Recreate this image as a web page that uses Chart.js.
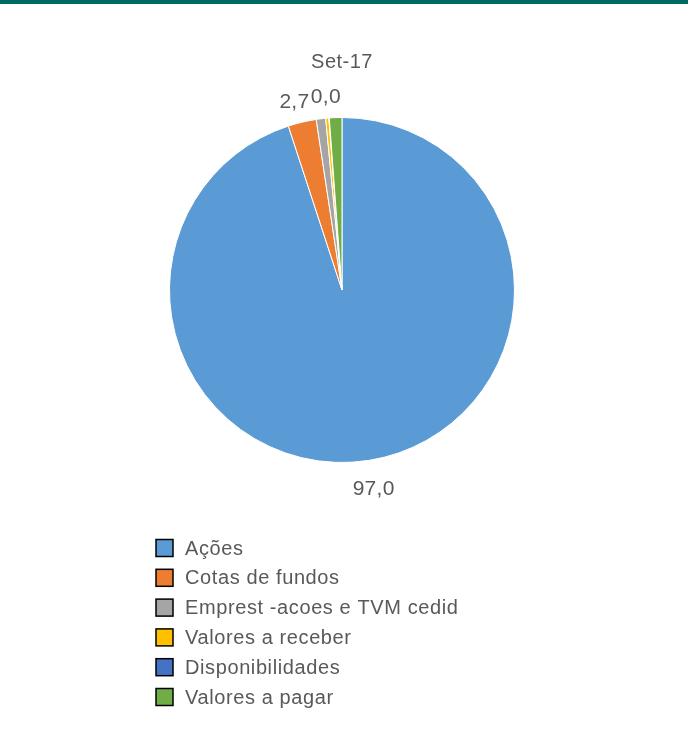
<!DOCTYPE html>
<html>
<head>
<meta charset="utf-8">
<script src="https://cdn.jsdelivr.net/npm/chart.js@4/dist/chart.umd.min.js"></script>
<style>
  html, body { margin: 0; padding: 0; background: #ffffff; }
  #wrap { position: relative; width: 688px; height: 738px; }
</style>
</head>
<body>
<div id="wrap"><canvas id="c"></canvas></div>
<script>
const title = "Set-17";
const categories = ["Ações", "Cotas de fundos", "Emprest -acoes e TVM cedid", "Valores a receber", "Disponibilidades", "Valores a pagar"];
const values = [97.0, 2.7, 0.9, 0.3, 0.04, -1.2];
const colors = ["#5B9BD5", "#ED7D31", "#A5A5A5", "#FFC000", "#4472C4", "#70AD47"];
const labelledSlices = [0, 1, 4];

const FONT = '"Liberation Sans", Arial, sans-serif';
const TEXT = "#595959";

const decorPlugin = {
  id: "decor",
  beforeDraw(chart) {
    const ctx = chart.ctx;
    ctx.save();
    ctx.fillStyle = "#006A62";
    ctx.fillRect(0, 0, chart.width, 4);
    ctx.restore();
  },
  afterDraw(chart) {
    const ctx = chart.ctx;
    ctx.save();
    // title
    ctx.fillStyle = TEXT;
    ctx.font = "20px " + FONT;
    ctx.letterSpacing = "0.5px";
    ctx.textAlign = "center";
    ctx.textBaseline = "middle";
    ctx.fillText(title, 342, 62);

    // data labels
    const meta = chart.getDatasetMeta(0);
    ctx.letterSpacing = "0.3px";
    labelledSlices.forEach(i => {
      const arc = meta.data[i];
      const p = arc.getProps(["x", "y", "startAngle", "endAngle", "outerRadius"], true);
      const mid = (p.startAngle + p.endAngle) / 2;
      const cx = Math.cos(mid), sy = Math.sin(mid);
      const d = p.outerRadius + 14;
      const txt = Math.abs(values[i]).toFixed(1).replace(".", ",");
      ctx.font = "21px " + FONT;
      const w = ctx.measureText(txt).width;
      const h = 22;
      const x = p.x + cx * d + cx * w / 2 - 1;
      const y = p.y + sy * d + sy * h / 2 + 4;
      ctx.fillText(txt, x, y);
    });

    // legend
    ctx.beginPath();
    ctx.rect(0, 0, chart.width, 708);
    ctx.clip();
    ctx.textAlign = "left";
    ctx.textBaseline = "middle";
    ctx.letterSpacing = "0.6px";
    categories.forEach((cat, i) => {
      const yc = 548 + i * 29.8;
      ctx.fillStyle = colors[i];
      ctx.fillRect(156, yc - 8.5, 17, 17);
      ctx.strokeStyle = "#000000";
      ctx.lineWidth = 1.5;
      ctx.strokeRect(156, yc - 8.5, 17, 17);
      ctx.fillStyle = TEXT;
      ctx.font = "20px " + FONT;
      ctx.fillText(cat, 185, yc + 1);
    });
    ctx.restore();
  }
};

new Chart(document.getElementById("c"), {
  type: "pie",
  data: {
    labels: categories,
    datasets: [{
      data: values,
      backgroundColor: colors,
      borderColor: "#ffffff",
      borderWidth: 1
    }]
  },
  options: {
    responsive: true,
    maintainAspectRatio: false,
    animation: false,
    layout: { padding: { left: 169, right: 173, top: 117, bottom: 275 } },
    plugins: {
      legend: { display: false },
      title: { display: false },
      tooltip: { enabled: false }
    }
  },
  plugins: [decorPlugin]
});
</script>
</body>
</html>
